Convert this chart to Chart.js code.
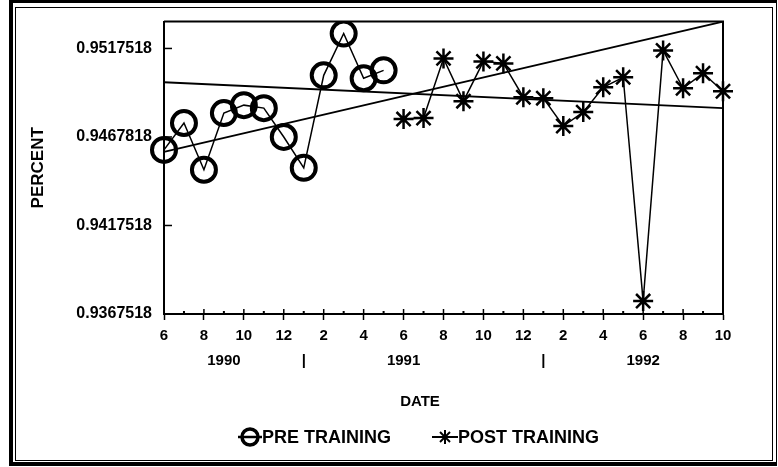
<!DOCTYPE html>
<html>
<head>
<meta charset="utf-8">
<script src="https://cdn.jsdelivr.net/npm/chart.js@4.4.1/dist/chart.umd.min.js"></script>
<style>
  html, body { margin: 0; padding: 0; background: #fff; }
  #wrap { position: relative; width: 778px; height: 467px; overflow: hidden;
          font-family: 'Liberation Sans', Arial, sans-serif; font-weight: bold; color: #000; }
  #outer { position: absolute; left: 9px; top: 0; width: 768px; height: 466px; box-sizing: border-box;
           border-style: solid; border-color: #000; border-width: 3px 1px 4px 4px; }
  #inner { position: absolute; left: 15px; top: 7px; width: 758px; height: 454px; box-sizing: border-box;
           border: 1px solid #000; }
  #chart { position: absolute; left: 0; top: 0; }
  #xtitle { position: absolute; left: 380px; width: 80px; top: 392px; text-align: center;
            font-size: 15px; line-height: 18px; }
  .leg { position: absolute; top: 427px; height: 20px; display: flex; align-items: center;
         font-size: 18px; line-height: 20px; white-space: nowrap; }
  .leg svg { display: block; }
</style>
</head>
<body>
<div id="wrap">
  <div id="outer"></div>
  <div id="inner"></div>
  <canvas id="chart" width="778" height="467"></canvas>
  <div id="xtitle">DATE</div>
  <div class="leg" style="left:238px">
    <svg width="24" height="20"><line x1="0" y1="10" x2="24" y2="10" stroke="#000" stroke-width="2.5"/><circle cx="12" cy="10" r="8" fill="none" stroke="#000" stroke-width="3.5"/></svg>
    <span>PRE TRAINING</span>
  </div>
  <div class="leg" style="left:432px">
    <svg width="26" height="20"><g stroke="#000" stroke-width="2"><line x1="0" y1="10" x2="26" y2="10"/><line x1="13" y1="3" x2="13" y2="17"/><line x1="8" y1="5" x2="18" y2="15"/><line x1="8" y1="15" x2="18" y2="5"/></g></svg>
    <span>POST TRAINING</span>
  </div>
</div>
<script>
// months from Jun 1990 to Oct 1992
const monthNums = [6, 7, 8, 9, 10, 11, 12, 1, 2, 3, 4, 5, 6, 7, 8, 9, 10, 11, 12, 1, 2, 3, 4, 5, 6, 7, 8, 9, 10];
const yearLabels = ['1990', '1991', '1992'];
const yearTickIndex = [3, 12, 24];
const yearBreakIndex = [7, 19];

const yTickValues = [0.9367518, 0.9417518, 0.9467518, 0.9517518];
const yTickLabels = ['0.9367518', '0.9417518', '0.9467818', '0.9517518'];

// Jun 1990 - May 1991
const preValues = [0.946022, 0.947538, 0.944898, 0.948100, 0.948550, 0.948381,
                   0.946752, 0.945010, 0.950235, 0.952595, 0.950067, 0.950516];
// Jun 1991 - Oct 1992
const postValues = [0.947763, 0.947819, 0.951190, 0.948774, 0.951022, 0.950909,
                    0.948999, 0.948943, 0.947370, 0.948156, 0.949561, 0.950123,
                    0.937482, 0.951640, 0.949505, 0.950348, 0.949336];
// trend lines, start and end value
const trendFlat = [0.949842, 0.948381];
const trendRising = [0.945909, 0.953269];

const FONT = "'Liberation Sans', Arial, sans-serif";
const last = monthNums.length - 1;
const preData = monthNums.map((m, i) => i < preValues.length ? preValues[i] : null);
const postData = monthNums.map((m, i) => i >= preValues.length ? postValues[i - preValues.length] : null);
const trendData = t => monthNums.map((m, i) => i === 0 ? t[0] : (i === last ? t[1] : null));

const boxTicks = {
    id: 'boxTicks',
    afterDraw(chart) {
        const { ctx, chartArea: a, scales: { x, y } } = chart;
        ctx.save();
        ctx.strokeStyle = '#000';
        ctx.fillStyle = '#000';
        ctx.lineWidth = 2;
        ctx.beginPath();
        ctx.moveTo(a.left, a.top);
        ctx.lineTo(a.right, a.top);
        ctx.lineTo(a.right, a.bottom);
        ctx.stroke();
        ctx.lineWidth = 1.5;
        monthNums.forEach((m, i) => {
            const px = x.getPixelForValue(i);
            if (i % 2 === 0) {
                ctx.beginPath();
                ctx.moveTo(px, a.bottom - 5);
                ctx.lineTo(px, a.bottom);
                ctx.stroke();
            } else {
                ctx.fillRect(px - 1, a.bottom - 3, 2, 2);
            }
        });
        yTickValues.forEach(v => {
            const py = y.getPixelForValue(v);
            ctx.beginPath();
            ctx.moveTo(a.left, py);
            ctx.lineTo(a.left + 8, py);
            ctx.stroke();
        });
        ctx.restore();
    }
};

new Chart(document.getElementById('chart').getContext('2d'), {
    type: 'line',
    data: {
        labels: monthNums.map(String),
        datasets: [
            {
                label: 'PRE TRAINING',
                data: preData,
                borderColor: '#000',
                borderWidth: 1.5,
                pointStyle: 'circle',
                pointRadius: 12,
                pointBorderWidth: 4,
                pointBorderColor: '#000',
                pointBackgroundColor: 'rgba(0,0,0,0)'
            },
            {
                label: 'POST TRAINING',
                data: postData,
                borderColor: '#000',
                borderWidth: 1.5,
                pointStyle: 'star',
                pointRadius: 10,
                pointBorderWidth: 2.5,
                pointBorderColor: '#000'
            },
            {
                label: 'trend pre',
                data: trendData(trendFlat),
                borderColor: '#000',
                borderWidth: 1.8,
                pointRadius: 0,
                spanGaps: true
            },
            {
                label: 'trend post',
                data: trendData(trendRising),
                borderColor: '#000',
                borderWidth: 1.8,
                pointRadius: 0,
                spanGaps: true
            }
        ]
    },
    options: {
        responsive: false,
        animation: false,
        devicePixelRatio: 1,
        layout: { padding: { top: 21, right: 55, bottom: 79, left: 0 } },
        plugins: {
            legend: { display: false },
            tooltip: { enabled: false }
        },
        elements: { line: { tension: 0 } },
        scales: {
            x: {
                type: 'category',
                offset: false,
                border: { color: '#000', width: 2 },
                grid: {
                    drawOnChartArea: false,
                    tickLength: 6,
                    tickWidth: 1.5,
                    tickColor: c => (c.index % 2 === 0 ? '#000' : 'rgba(0,0,0,0)')
                },
                ticks: {
                    autoSkip: false,
                    maxRotation: 0,
                    color: '#000',
                    padding: 3,
                    font: { family: FONT, size: 15, weight: 'bold', lineHeight: 1.7 },
                    callback: (value, index) => {
                        const top = index % 2 === 0 ? String(monthNums[index]) : '';
                        const y = yearTickIndex.indexOf(index);
                        if (y >= 0) return [top, yearLabels[y]];
                        if (yearBreakIndex.includes(index)) return [top, '|'];
                        return top;
                    }
                },
                afterFit: s => { s.height = 74; }
            },
            y: {
                min: 0.9367518,
                max: 0.953269,
                border: { color: '#000', width: 2 },
                grid: { drawOnChartArea: false, drawTicks: false },
                afterBuildTicks: s => { s.ticks = yTickValues.map(v => ({ value: v })); },
                ticks: {
                    color: '#000',
                    padding: 12,
                    font: { family: FONT, size: 16, weight: 'bold' },
                    callback: (value, index) => yTickLabels[index]
                },
                title: {
                    display: true,
                    text: 'PERCENT',
                    color: '#000',
                    padding: { top: 28, bottom: 0 },
                    font: { family: FONT, size: 17, weight: 'bold' }
                },
                afterFit: s => { s.width = 164; }
            }
        }
    },
    plugins: [boxTicks]
});
</script>
</body>
</html>
